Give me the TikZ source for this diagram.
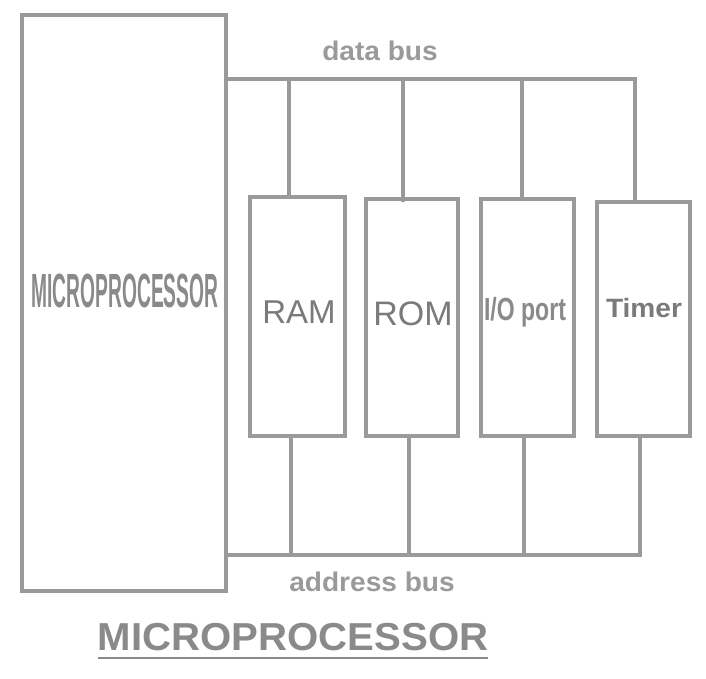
\documentclass[tikz,border=0pt]{standalone}
\usepackage{fontspec}
\setmainfont{Liberation Sans}
\usepackage{graphicx}
\begin{document}
\begin{tikzpicture}[x=1pt,y=-1pt,
  line/.style={draw=linegray,line width=3.6pt},
  unit/.style={line,rectangle,inner sep=0pt,fill=white},
  lbl/.style={text=textgray,inner sep=0pt},
  buslbl/.style={text=linegray,inner sep=0pt,font=\fontsize{27}{29}\selectfont\bfseries}]
\definecolor{linegray}{HTML}{9A9A9A}
\definecolor{textgray}{HTML}{7A7A7A}
\definecolor{titlegray}{HTML}{8A8A8A}
\useasboundingbox (0,0) rectangle (706,678);
% boxes
\node[unit,minimum width=204pt,minimum height=576pt] (mp) at (124,303) {};
\node[lbl,text=titlegray,anchor=base,font=\fontsize{48}{50}\selectfont\bfseries] (mpt) at (125,307) {\scalebox{0.40}[1]{MICROPROCESSOR}};
\node[unit,minimum width=95pt,minimum height=239pt] (ram) at (297.5,316.5) {};
\node[unit,minimum width=92pt,minimum height=237pt] (rom) at (412,317.5) {};
\node[unit,minimum width=93pt,minimum height=237pt] (io) at (527.5,317.5) {};
\node[unit,minimum width=93pt,minimum height=234pt] (tim) at (643.5,319) {};
\node[lbl,anchor=base,font=\fontsize{33}{35}\selectfont] (ramt) at (299,323) {RAM};
\node[lbl,anchor=base,font=\fontsize{34}{36}\selectfont] (romt) at (413,325) {ROM};
\node[lbl,anchor=base,text=titlegray,font=\fontsize{32}{34}\selectfont\bfseries] (iot) at (525,320) {\scalebox{0.72}[1]{I/O port}};
\node[lbl,anchor=base,font=\fontsize{26.5}{28}\selectfont\bfseries] (timt) at (644,317) {\scalebox{1.06}[1]{Timer}};
% data bus
\coordinate (dbs) at (mp.east |- 0,79);
\coordinate (dbe) at (635,79);
\coordinate (d1) at (289,79);
\coordinate (d2) at (403,79);
\coordinate (d3) at (522,79);
\draw[line] (dbs) -- (dbe) -- (dbe |- tim.north);
\draw[line] (d1) -- (d1 |- ram.north);
\draw[line] (d2) -- ([yshift=-5pt]d2 |- rom.north);
\draw[line] (d3) -- (d3 |- io.north);
% address bus
\coordinate (abs) at (mp.east |- 0,555);
\coordinate (abe) at (640,555);
\coordinate (a1) at (291,555);
\coordinate (a2) at (409,555);
\coordinate (a3) at (524,555);
\draw[line] (abs) -- (abe) -- (abe |- tim.south);
\draw[line] (a1) -- (a1 |- ram.south);
\draw[line] (a2) -- (a2 |- rom.south);
\draw[line] (a3) -- (a3 |- io.south);
% labels
\node[buslbl] (dbl) at (380,51) {\scalebox{1.04}[1]{data bus}};
\node[buslbl] (abl) at (372,582) {\scalebox{1.04}[1]{address bus}};
\node[text=titlegray,inner sep=0pt,font=\fontsize{39}{41}\selectfont\bfseries] (title) at (293,637) {\scalebox{1.03}[1]{MICROPROCESSOR}};
\draw[draw=titlegray,line width=2.2pt] (title.south west |- 0,658) -- (title.south east |- 0,658);
\end{tikzpicture}
\end{document}
